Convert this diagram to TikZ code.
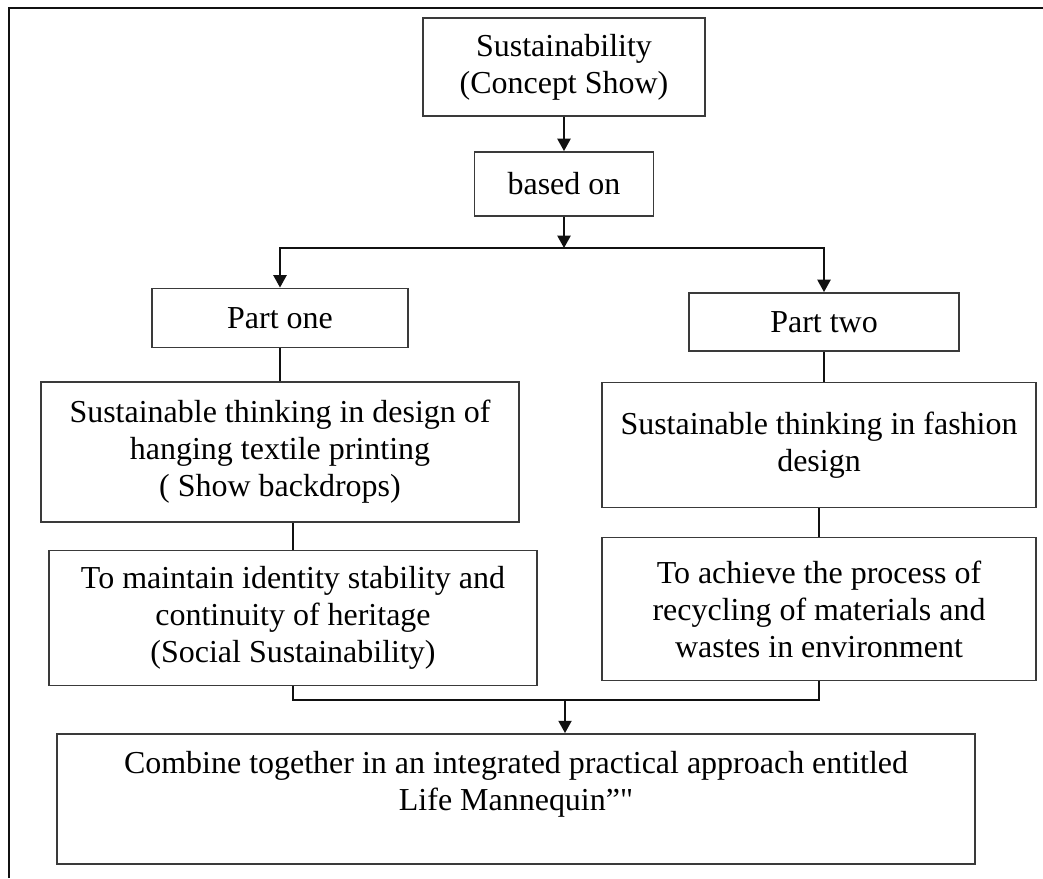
\documentclass[tikz,border=0pt]{standalone}
\usepackage{fontspec}
\setmainfont{Liberation Serif}
\usepackage{xcolor}
\definecolor{chart-line}{HTML}{3A3A3A}
\definecolor{chart-black}{HTML}{111111}
\usepackage{tikz}
\usetikzlibrary{arrows.meta}

\tikzset{
    chartbox/.style={draw=chart-line, line width=1.1pt, inner sep=0pt, align=center,
        font=\fontsize{18.2}{21}\selectfont},
    link/.style={draw=chart-black, line width=0.9pt},
    arrowlink/.style={link, -{Triangle[width=7.5pt,length=7pt]}},
}

\begin{document}
\begin{tikzpicture}[x=0.02cm, y=-0.02cm]

    % Page
    \useasboundingbox (0, 0) rectangle (1043, 878);
    \draw[chart-black, line width=1.4pt] (9, 878) -- (9, 8) -- (1043, 8);

    % Top of the chart
    \node[chartbox, minimum width=5.64cm, minimum height=1.96cm] (concept) at (564, 67) {Sustainability\\(Concept Show)};
    \node[chartbox, minimum width=3.58cm, minimum height=1.28cm] (basedon) at (564, 184) {based on};
    \coordinate (split) at (564, 248);

    % Part one
    \node[chartbox, minimum width=5.12cm, minimum height=1.18cm] (partone) at (280, 318) {Part one};
    \node[chartbox, minimum width=9.58cm, minimum height=2.80cm] (textile) at (280, 452) {Sustainable thinking in design of\\hanging textile printing\\( Show backdrops)};
    \node[chartbox, minimum width=9.78cm, minimum height=2.70cm] (social) at (293, 618) {To maintain identity stability and\\continuity of heritage\\(Social Sustainability)};

    % Part two
    \node[chartbox, minimum width=5.40cm, minimum height=1.16cm] (parttwo) at (824, 322) {Part two};
    \node[chartbox, minimum width=8.68cm, minimum height=2.50cm] (fashion) at (819, 445) {Sustainable thinking in fashion\\design};
    \node[chartbox, minimum width=8.68cm, minimum height=2.86cm] (recycle) at (819, 609) {To achieve the process of\\recycling of materials and\\wastes in environment};

    % Result
    \coordinate (merge) at (565, 700);
    \node[chartbox, minimum width=18.38cm, minimum height=2.60cm] (combine) at (516, 799) {Combine together in an integrated practical approach entitled\\Life Mannequin”\textquotedbl\\\mbox{}};

    % Connectors
    \draw[arrowlink] (concept) -- (basedon);
    \draw[arrowlink] (basedon) -- (split);
    \draw[arrowlink] (split) -| (partone.north);
    \draw[arrowlink] (split) -| (parttwo.north);
    \draw[link] (partone) -- (textile);
    \draw[link] (parttwo) -- (parttwo |- fashion.north);
    \draw[link] (social.north) -- (social.north |- textile.south);
    \draw[link] (fashion) -- (recycle);
    \draw[link] (social.south) |- (merge) -| (recycle.south);
    \draw[arrowlink] (merge) -- (merge |- combine.north);

\end{tikzpicture}
\end{document}
